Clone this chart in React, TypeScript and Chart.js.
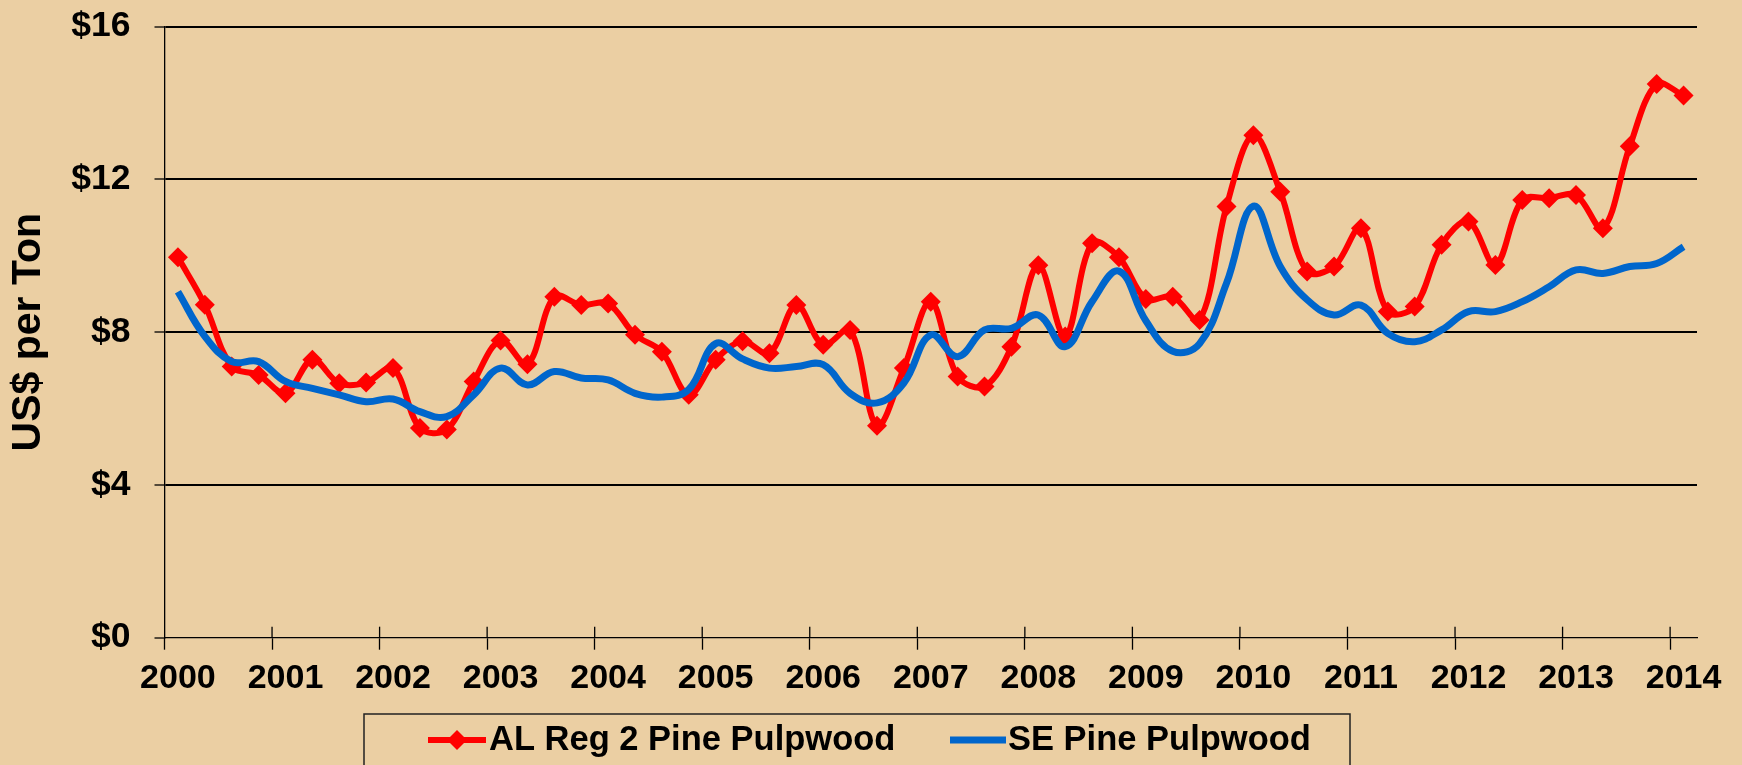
import React, { useEffect, useRef } from 'react';
import { Chart, registerables } from 'chart.js';

Chart.register(...registerables);

const quarters: string[] = [
  '2000Q1', '2000Q2', '2000Q3', '2000Q4',
  '2001Q1', '2001Q2', '2001Q3', '2001Q4',
  '2002Q1', '2002Q2', '2002Q3', '2002Q4',
  '2003Q1', '2003Q2', '2003Q3', '2003Q4',
  '2004Q1', '2004Q2', '2004Q3', '2004Q4',
  '2005Q1', '2005Q2', '2005Q3', '2005Q4',
  '2006Q1', '2006Q2', '2006Q3', '2006Q4',
  '2007Q1', '2007Q2', '2007Q3', '2007Q4',
  '2008Q1', '2008Q2', '2008Q3', '2008Q4',
  '2009Q1', '2009Q2', '2009Q3', '2009Q4',
  '2010Q1', '2010Q2', '2010Q3', '2010Q4',
  '2011Q1', '2011Q2', '2011Q3', '2011Q4',
  '2012Q1', '2012Q2', '2012Q3', '2012Q4',
  '2013Q1', '2013Q2', '2013Q3', '2013Q4',
  '2014Q1',
];

const alReg2Pine: number[] = [
  9.96, 8.72, 7.1, 6.88,
  6.4, 7.28, 6.66, 6.68,
  7.06, 5.49, 5.45, 6.71,
  7.78, 7.16, 8.93, 8.71,
  8.75, 7.93, 7.49, 6.36,
  7.28, 7.76, 7.45, 8.71,
  7.67, 8.06, 5.55, 7.06,
  8.8, 6.84, 6.58, 7.62,
  9.75, 7.89, 10.33, 9.96,
  8.87, 8.93, 8.32, 11.29,
  13.16, 11.68, 9.59, 9.72,
  10.72, 8.54, 8.67, 10.29,
  10.9, 9.76, 11.46, 11.51,
  11.59, 10.72, 12.87, 14.5,
  14.2,
];

const sePine: number[] = [
  9.06, 7.89, 7.23, 7.23,
  6.71, 6.53, 6.36, 6.18,
  6.25, 5.92, 5.79, 6.36,
  7.06, 6.62, 6.97, 6.8,
  6.75, 6.4, 6.3, 6.5,
  7.7, 7.3, 7.06, 7.1,
  7.15, 6.4, 6.15, 6.67,
  7.93, 7.36, 8.06, 8.1,
  8.45, 7.62, 8.8, 9.6,
  8.3, 7.5, 7.7, 9.28,
  11.3, 9.72, 8.85, 8.45,
  8.71, 7.97, 7.75, 8.06,
  8.54, 8.54, 8.8, 9.19,
  9.63, 9.54, 9.72, 9.8,
  10.24,
];

const yTicks: number[] = [0, 4, 8, 12, 16];

const seriesNames = ['AL Reg 2 Pine Pulpwood', 'SE Pine Pulpwood'];
const RED = '#FF0000';
const BLUE = '#0066CC';
const BG = '#EBCFA3';
const FONT = "'Liberation Sans', Arial, Helvetica, sans-serif";

const backgroundPlugin = {
  id: 'woodBg',
  beforeDraw(chart: any) {
    const { ctx, width, height } = chart;
    ctx.save();
    ctx.fillStyle = BG;
    ctx.fillRect(0, 0, width, height);
    ctx.restore();
  },
};

const crossTicksPlugin = {
  id: 'crossTicks',
  afterDatasetsDraw(chart: any) {
    const x = chart.scales.x;
    const ctx = chart.ctx;
    const half = (x.getPixelForValue(1) - x.getPixelForValue(0)) / 2;
    ctx.save();
    ctx.strokeStyle = '#000';
    ctx.lineWidth = 1.3;
    for (let i = 4; i < quarters.length; i += 4) {
      const px = x.getPixelForValue(i) - half;
      ctx.beginPath();
      ctx.moveTo(px, x.top - 11);
      ctx.lineTo(px, x.top);
      ctx.stroke();
    }
    ctx.restore();
  },
};

const legendPlugin = {
  id: 'boxLegend',
  afterDraw(chart: any) {
    const ctx = chart.ctx;
    ctx.save();
    ctx.strokeStyle = '#222';
    ctx.lineWidth = 1.5;
    ctx.strokeRect(364, 714, 986, 70);
    const cy = 740;
    // red item
    ctx.strokeStyle = RED;
    ctx.lineWidth = 6;
    ctx.beginPath();
    ctx.moveTo(428, cy);
    ctx.lineTo(486, cy);
    ctx.stroke();
    ctx.fillStyle = RED;
    ctx.beginPath();
    ctx.moveTo(457, cy - 10);
    ctx.lineTo(467, cy);
    ctx.lineTo(457, cy + 10);
    ctx.lineTo(447, cy);
    ctx.closePath();
    ctx.fill();
    // blue item
    ctx.strokeStyle = BLUE;
    ctx.lineWidth = 7;
    ctx.beginPath();
    ctx.moveTo(950, cy);
    ctx.lineTo(1006, cy);
    ctx.stroke();
    ctx.fillStyle = '#000';
    ctx.font = `bold 34.5px ${FONT}`;
    ctx.textBaseline = 'middle';
    ctx.textAlign = 'left';
    ctx.fillText(seriesNames[0], 489, cy);
    ctx.fillText(seriesNames[1], 1008, cy);
    ctx.restore();
  },
};

export default function App() {
  const canvasRef = useRef<HTMLCanvasElement | null>(null);

  useEffect(() => {
    document.body.style.margin = '0';
    const canvas = canvasRef.current;
    if (!canvas) return;
    const chart = new Chart(canvas, {
      type: 'line',
      data: {
        labels: quarters,
        datasets: [
          {
            label: seriesNames[0],
            data: alReg2Pine,
            borderColor: RED,
            backgroundColor: RED,
            borderWidth: 6,
            pointStyle: 'rectRot',
            pointRadius: 10,
            pointBorderWidth: 0,
            pointBackgroundColor: RED,
            pointBorderColor: RED,
            tension: 0.35,
            order: 1,
          },
          {
            label: seriesNames[1],
            data: sePine,
            borderColor: BLUE,
            backgroundColor: BLUE,
            borderWidth: 7,
            pointRadius: 0,
            tension: 0.4,
            order: 0,
          },
        ],
      },
      options: {
        animation: false,
        responsive: true,
        maintainAspectRatio: false,
        layout: { padding: { left: 0, right: 45, top: 26.7, bottom: 67 } },
        plugins: {
          legend: { display: false },
          tooltip: { enabled: false },
        },
        scales: {
          x: {
            type: 'category',
            offset: true,
            afterFit: (scale: any) => {
              scale.height = 60.3;
              scale.paddingLeft = 0;
              scale.paddingRight = 0;
            },
            grid: {
              display: true,
              offset: true,
              drawOnChartArea: false,
              drawTicks: true,
              tickLength: 12,
              tickWidth: 1.3,
              tickColor: (c: any) => (c.index % 4 === 0 ? '#000' : 'rgba(0,0,0,0)'),
            },
            border: { display: true, color: '#000', width: 1.3 },
            ticks: {
              autoSkip: false,
              maxRotation: 0,
              minRotation: 0,
              padding: 9,
              color: '#000',
              font: { family: FONT, size: 34, weight: 'bold' },
              callback: (_v: any, i: number) =>
                quarters[i].endsWith('Q1') ? quarters[i].slice(0, 4) : '',
            },
          },
          y: {
            min: 0,
            max: 16,
            afterFit: (scale: any) => {
              scale.width = 164.5;
              scale.paddingTop = 0;
              scale.paddingBottom = 0;
            },
            afterBuildTicks: (scale: any) => {
              scale.ticks = yTicks.map((v) => ({ value: v }));
            },
            grid: {
              color: (c: any) => (c.tick && c.tick.value === 0 ? 'rgba(0,0,0,0)' : '#000'),
              lineWidth: 2,
              drawTicks: true,
              tickLength: 10,
              tickWidth: 1.3,
              tickColor: '#000',
            },
            border: { display: true, color: '#000', width: 1.3 },
            ticks: {
              padding: 24,
              color: '#000',
              font: { family: FONT, size: 35.5, weight: 'bold' },
              callback: (v: any) => '$' + v,
            },
            title: {
              display: true,
              text: 'US$ per Ton',
              color: '#000',
              font: { family: FONT, size: 41, weight: 'bold' },
              padding: { top: 4, bottom: 0 },
            },
          },
        },
      },
      plugins: [backgroundPlugin, crossTicksPlugin, legendPlugin],
    });
    return () => chart.destroy();
  }, []);

  return (
    <div
      style={{
        position: 'absolute',
        left: 0,
        top: 0,
        width: '1742px',
        height: '765px',
        background: BG,
        overflow: 'hidden',
      }}
    >
      <canvas ref={canvasRef} />
    </div>
  );
}
